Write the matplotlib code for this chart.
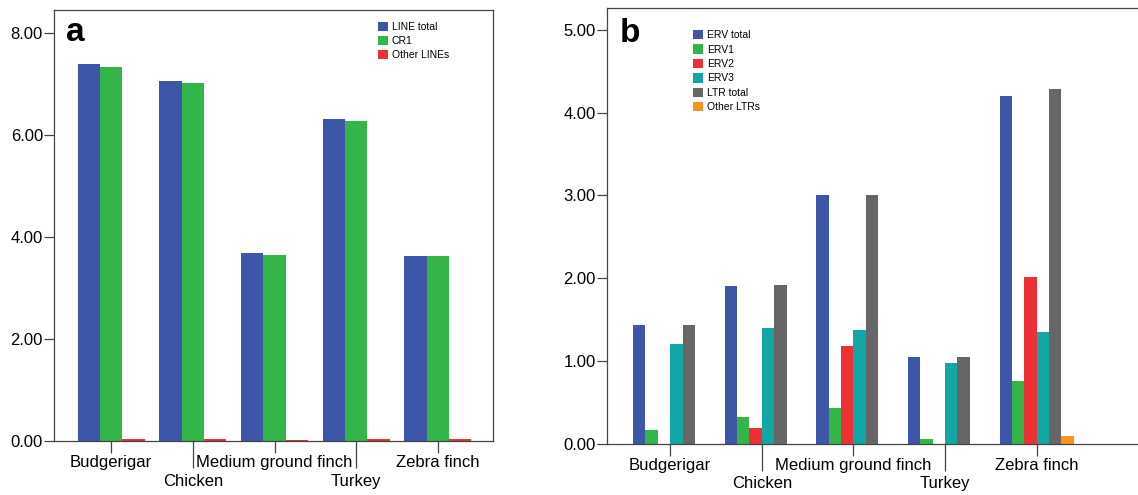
import matplotlib
matplotlib.use("Agg")
import matplotlib.pyplot as plt
import numpy as np

plt.rcParams['font.family'] = ['Liberation Sans', 'DejaVu Sans']

# Species shared by both panels
species = ["Budgerigar", "Chicken", "Medium ground finch", "Turkey", "Zebra finch"]

# Panel a: LINEs
a_series = ["LINE total", "CR1", "Other LINEs"]
line_total = [7.39, 7.06, 3.68, 6.31, 3.63]
cr1 = [7.34, 7.01, 3.64, 6.28, 3.63]
other_lines = [0.04, 0.04, 0.02, 0.03, 0.03]

# Panel b: LTRs
b_series = ["ERV total", "ERV1", "ERV2", "ERV3", "LTR total", "Other LTRs"]
erv_total = [1.43, 1.91, 3.00, 1.045, 4.20]
erv1 = [0.165, 0.32, 0.43, 0.056, 0.76]
erv2 = [0.0, 0.19, 1.185, 0.0, 2.01]
erv3 = [1.21, 1.395, 1.37, 0.98, 1.35]
ltr_total = [1.43, 1.92, 3.00, 1.045, 4.28]
other_ltrs = [0.0, 0.0, 0.0, 0.0, 0.089]

a_ticks = [0, 2, 4, 6, 8]
b_ticks = [0, 1, 2, 3, 4, 5]

blue = '#3d56a8'
green = '#33b54a'
red = '#ed2f36'
teal = '#13a6a4'
gray = '#666666'
orange = '#f7941d'
spine_col = '#444444'

W, H = 1138, 495
fig = plt.figure(figsize=(W / 100, H / 100), dpi=100)
ax_a = fig.add_axes([54 / W, 54 / H, 439 / W, 431 / H])
ax_b = fig.add_axes([607 / W, 51.3 / H, 531 / W, 436.2 / H])


def grouped(ax, data, colors, labels, width):
    x = np.arange(len(species))
    n = len(data)
    bars = []
    for i, (vals, c, lab) in enumerate(zip(data, colors, labels)):
        off = (i - (n - 1) / 2) * width
        bars.append(ax.bar(x + off, vals, width, color=c, label=lab, linewidth=0))
    return bars


def style(ax, yticks, ylim, xlim):
    ax.set_ylim(*ylim)
    ax.set_xlim(*xlim)
    ax.set_yticks(yticks)
    ax.set_yticklabels(["%.2f" % t for t in yticks])
    # staggered category labels: even ones on short ticks, odd on long ticks
    ax.set_xticks([0, 2, 4])
    ax.set_xticklabels([species[0], species[2], species[4]])
    ax.set_xticks([1, 3], minor=True)
    ax.set_xticklabels([species[1], species[3]], minor=True)
    ax.tick_params(axis='x', which='major', length=8.6, width=0.9, color=spine_col,
                   pad=1.5, labelsize=12)
    ax.tick_params(axis='x', which='minor', length=19.5, width=0.9, color=spine_col,
                   pad=4, labelsize=12)
    ax.tick_params(axis='y', length=7, width=0.9, color=spine_col, pad=1, labelsize=12)
    ax.yaxis.set_minor_locator(matplotlib.ticker.NullLocator())
    for s in ax.spines.values():
        s.set_color(spine_col)
        s.set_linewidth(0.9)


grouped(ax_a, [line_total, cr1, other_lines], [blue, green, red], a_series, 0.273)
style(ax_a, a_ticks, (0, 8.45), (-0.70, 4.675))

grouped(ax_b, [erv_total, erv1, erv2, erv3, ltr_total, other_ltrs],
        [blue, green, red, teal, gray, orange], b_series, 0.135)
style(ax_b, b_ticks, (0, 5.27), (-0.69, 5.107))
ax_b.spines['right'].set_visible(False)

ax_a.legend(loc='upper left', bbox_to_anchor=(377.7 / W, 1 - 22 / H),
            bbox_transform=fig.transFigure, frameon=False, fontsize=7.5,
            borderpad=0, borderaxespad=0, handlelength=1.0, handleheight=1.0,
            handletextpad=0.35, labelspacing=0.35)
ax_b.legend(loc='upper left', bbox_to_anchor=(693 / W, 1 - 30 / H),
            bbox_transform=fig.transFigure, frameon=False, fontsize=7.5,
            borderpad=0, borderaxespad=0, handlelength=1.0, handleheight=1.0,
            handletextpad=0.35, labelspacing=0.4)

fig.text(66 / W, 1 - 41 / H, "a", fontsize=24, fontweight='bold', va='baseline')
fig.text(620 / W, 1 - 42 / H, "b", fontsize=24, fontweight='bold', va='baseline')

fig.savefig("out.png", dpi=100)
